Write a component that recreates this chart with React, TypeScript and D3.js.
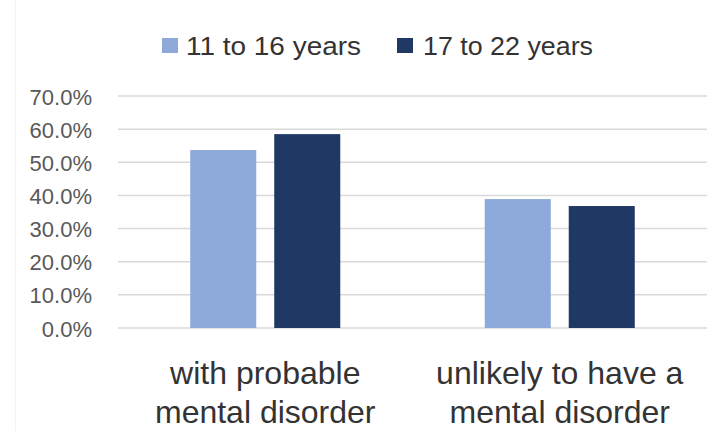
import React from "react";
import * as d3 from "d3";

const categories: string[][] = [
  ["with probable", "mental disorder"],
  ["unlikely to have a", "mental disorder"],
];
const seriesNames = ["11 to 16 years", "17 to 22 years"];
const youngerValues = [0.537, 0.389];
const olderValues = [0.585, 0.368];
const tickValues = [0, 0.1, 0.2, 0.3, 0.4, 0.5, 0.6, 0.7];

const colors = ["#8eaadb", "#203864"];
const W = 718;
const H = 431;

export default function App() {
  const catKeys = categories.map((c) => c.join(" "));
  const x0 = d3.scaleBand<string>().domain(catKeys).range([118, 707]).padding(0);
  const x1 = d3
    .scaleBand<string>()
    .domain(seriesNames)
    .range([0, x0.bandwidth()])
    .paddingInner(0.214)
    .paddingOuter(0.86);
  const y = d3.scaleLinear().domain([0, 0.7]).range([328, 96]);
  const fmt = d3.format(".1%");
  const seriesValues = [youngerValues, olderValues];

  const legendPos = [
    { sx: 162, tx: 186, len: 175 },
    { sx: 397, tx: 423, len: 170 },
  ];

  return (
    <svg
      width={W}
      height={H}
      style={{ position: "absolute", left: 0, top: 0, background: "#fff" }}
      fontFamily="'Liberation Sans', Arial, sans-serif"
    >
      <rect x={0} y={0} width={W} height={H} fill="#fff" />
      <line x1={15.5} x2={15.5} y1={0} y2={H} stroke="#f2f2f2" strokeWidth={1} />

      {/* legend */}
      {seriesNames.map((s, i) => (
        <g key={s}>
          <rect x={legendPos[i].sx} y={38} width={16} height={15} fill={colors[i]} />
          <text
            x={legendPos[i].tx}
            y={54.5}
            fontSize={26}
            fill="#333"
            textLength={legendPos[i].len}
            lengthAdjust="spacingAndGlyphs"
          >
            {s}
          </text>
        </g>
      ))}

      {/* gridlines and y ticks */}
      {tickValues.map((t) => (
        <g key={t}>
          <line
            x1={118}
            x2={707}
            y1={y(t)}
            y2={y(t)}
            stroke="#d9d9d9"
            strokeWidth={1.5}
          />
          <text x={92} y={y(t) + 8.5} textAnchor="end" fontSize={22} fill="#595959">
            {fmt(t)}
          </text>
        </g>
      ))}

      {/* bars */}
      {catKeys.map((c, ci) => (
        <g key={c} transform={`translate(${x0(c)},0)`}>
          {seriesNames.map((s, si) => {
            const v = seriesValues[si][ci];
            return (
              <rect
                key={s}
                x={x1(s)}
                y={y(v)}
                width={x1.bandwidth()}
                height={y(0) - y(v)}
                fill={colors[si]}
              />
            );
          })}
        </g>
      ))}

      {/* category labels */}
      {categories.map((lines, ci) => {
        const cx = (x0(catKeys[ci]) as number) + x0.bandwidth() / 2;
        return (
          <text key={ci} textAnchor="middle" fontSize={32} fill="#333">
            {lines.map((ln, li) => (
              <tspan key={li} x={cx} y={384 + li * 39}>
                {ln}
              </tspan>
            ))}
          </text>
        );
      })}
    </svg>
  );
}
